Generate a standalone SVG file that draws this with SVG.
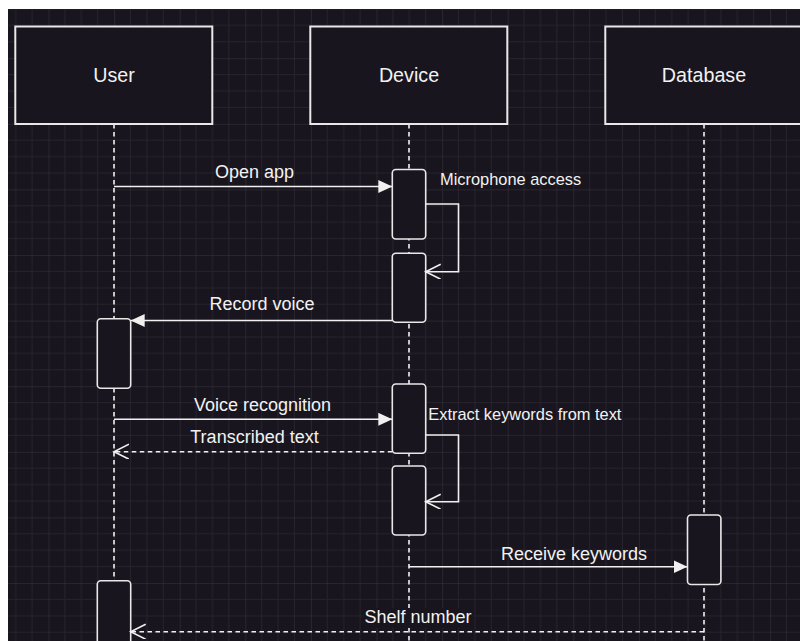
<svg xmlns="http://www.w3.org/2000/svg" width="800" height="641" viewBox="0 0 800 641">
<style>
.hdr{fill:#18151e;stroke:#e8e8e8;stroke-width:2}
.act{fill:#18151e;stroke:#e8e8e8;stroke-width:1.6}
.life{fill:none;stroke:#f0f0f0;stroke-width:1.6;stroke-dasharray:4.5 3.5}
.msg{fill:none;stroke:#f0f0f0;stroke-width:1.6}
.ret{fill:none;stroke:#f0f0f0;stroke-width:1.6;stroke-dasharray:4.5 3.5}
.t{font-family:"Liberation Sans",Arial,sans-serif;fill:#f2f2f2}
.h{font-size:19.7px;text-anchor:middle}
.l{font-size:18px;text-anchor:middle}
.s{font-size:16.4px}
</style>
<defs>
<pattern id="grid" patternUnits="userSpaceOnUse" x="48.5" y="58.2" width="65.6" height="65.6">
<path d="M16.4,0V65.6M32.8,0V65.6M49.2,0V65.6M0,16.4H65.6M0,32.8H65.6M0,49.2H65.6" stroke="#26232c" stroke-width="1" fill="none"/>
<path d="M0,0V65.6M0,0H65.6" stroke="#38353e" stroke-width="1" fill="none"/>
</pattern>
<marker id="block" markerUnits="userSpaceOnUse" markerWidth="16" markerHeight="14" refX="14" refY="6.5" orient="auto">
<path d="M0,0L14,6.5L0,13z" fill="#f0f0f0"/>
</marker>
<marker id="open" markerUnits="userSpaceOnUse" markerWidth="18" markerHeight="18" refX="15" refY="7.5" orient="auto">
<path d="M0,0L15,7.5L0,15" fill="none" stroke="#f0f0f0" stroke-width="1.6"/>
</marker>
</defs>
<rect x="0" y="0" width="800" height="641" fill="#ffffff"/>
<rect x="8" y="9" width="792" height="632" fill="#18151e"/>
<rect x="8" y="9" width="792" height="632" fill="url(#grid)"/>

<g id="lifelines">
<path class="life" d="M114,124V641"/>
<path class="life" d="M409,124V641"/>
<path class="life" d="M704,124V641"/>
</g>

<g id="user"><rect class="hdr" x="15.3" y="26.5" width="197" height="97.5"/><text class="t h" x="114" y="82">User</text></g>
<g id="device"><rect class="hdr" x="310.3" y="26.5" width="197" height="97.5"/><text class="t h" x="409" y="82">Device</text></g>
<g id="database"><rect class="hdr" x="605.3" y="26.5" width="197" height="97.5"/><text class="t h" x="704" y="82">Database</text></g>

<g id="act-device-1"><rect class="act" x="392.3" y="169.5" width="33.4" height="69.5" rx="3.5"/></g>
<g id="act-device-2"><rect class="act" x="392.3" y="253.3" width="33.4" height="69" rx="3.5"/></g>
<g id="act-user-1"><rect class="act" x="97.3" y="318.8" width="33.4" height="69.5" rx="3.5"/></g>
<g id="act-device-3"><rect class="act" x="392.3" y="384" width="33.4" height="69.3" rx="3.5"/></g>
<g id="act-device-4"><rect class="act" x="392.3" y="466" width="33.4" height="69" rx="3.5"/></g>
<g id="act-db-1"><rect class="act" x="687.5" y="515" width="33.4" height="69.5" rx="3.5"/></g>
<g id="act-user-2"><rect class="act" x="97.3" y="580.7" width="33.4" height="70" rx="3.5"/></g>

<g id="connectors">
<path class="msg" d="M114,186.5H392.3" marker-end="url(#block)"/>
<path class="msg" d="M425.7,204H458.5V271.7H425.7" marker-end="url(#open)"/>
<path class="msg" d="M392.3,320.5H130.7" marker-end="url(#block)"/>
<path class="msg" d="M114,419.3H392.3" marker-end="url(#block)"/>
<path class="ret" d="M392.3,451.7H114" marker-end="url(#open)"/>
<path class="msg" d="M425.7,435H458.5V501.7H425.7" marker-end="url(#open)"/>
<path class="msg" d="M409,566.7H687.5" marker-end="url(#block)"/>
<path class="ret" d="M704,631.7H130.7" marker-end="url(#open)"/>
</g>

<g id="labels">
<text class="t l" x="254.5" y="178">Open app</text>
<text class="t s" x="440" y="185">Microphone access</text>
<text class="t l" x="262" y="310">Record voice</text>
<text class="t l" x="262.5" y="411">Voice recognition</text>
<text class="t l" x="254.5" y="443">Transcribed text</text>
<text class="t s" x="428.3" y="420">Extract keywords from text</text>
<text class="t l" x="574" y="560">Receive keywords</text>
<rect x="363" y="608" width="110" height="20" fill="#18151e"/>
<text class="t l" x="418" y="623">Shelf number</text>
</g>
</svg>
